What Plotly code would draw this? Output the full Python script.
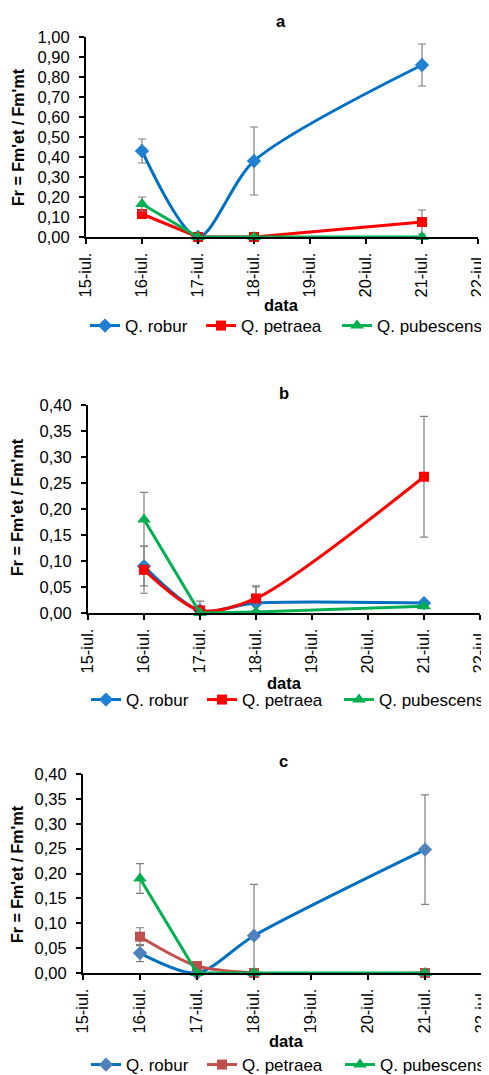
import plotly.graph_objects as go

# The page body adds an 8px offset; positions are given in page pixels and shifted back.
OFF = 8
W, H = 489, 1075

# ---- data ----
days = [16, 17, 18, 21]
x_tick_vals = [15, 16, 17, 18, 19, 20, 21, 22]
x_tick_text = ["15-iul.", "16-iul.", "17-iul.", "18-iul.", "19-iul.", "20-iul.", "21-iul.", "22-iul."]
species = ["Q. robur", "Q. petraea", "Q. pubescens"]

a_robur = [0.43, 0.0, 0.38, 0.86]
a_robur_err = [0.06, 0.0, 0.17, 0.105]
a_petraea = [0.115, 0.0, 0.0, 0.075]
a_petraea_err = [0.0, 0.0, 0.0, 0.06]
a_pubescens = [0.165, 0.0, 0.0, 0.0]
a_pubescens_err = [0.035, 0.0, 0.0, 0.0]

b_robur = [0.09, 0.005, 0.019, 0.019]
b_robur_err = [0.038, 0.018, 0.031, 0.0]
b_petraea = [0.083, 0.005, 0.028, 0.262]
b_petraea_err = [0.045, 0.0, 0.024, 0.116]
b_pubescens = [0.18, 0.0, 0.002, 0.013]
b_pubescens_err = [0.052, 0.0, 0.0, 0.0]

c_robur = [0.04, 0.0, 0.075, 0.248]
c_robur_err = [0.017, 0.0, 0.103, 0.11]
c_petraea = [0.073, 0.014, 0.0, 0.0]
c_petraea_err = [0.018, 0.0, 0.0, 0.0]
c_pubescens = [0.19, 0.0, 0.0, 0.0]
c_pubescens_err = [0.03, 0.0, 0.0, 0.0]

panel_titles = ["a", "b", "c"]
y_title = "Fr = Fm'et / Fm'mt"
x_title = "data"
y_max = [1.0, 0.4, 0.4]
y_dtick = [0.1, 0.05, 0.05]

FONT = "Liberation Sans, Arial, sans-serif"

# pixel geometry (page pixels) of the three plot areas: (x0, x1, ytop, ybottom)
boxes = [(86, 478, 37, 237), (88, 480, 405, 613), (83, 482, 774, 973)]
title_pos = [(281, 21), (284, 393), (283, 761)]
ytitle_pos = [(18, 137), (18, 507), (17, 874)]
xtitle_pos = [(281, 305), (284, 683), (286, 1041)]
legend_y = [326, 700, 1065]
legend_item_x = [[90, 206, 342], [91, 207, 344], [91, 207, 345]]


def px(x):
    return (x - OFF) / W


def py(y):
    return 1 - (y - OFF) / H


fig = go.Figure()

panels = [
    [(a_robur, a_robur_err, "spline"), (a_petraea, a_petraea_err, "linear"), (a_pubescens, a_pubescens_err, "linear")],
    [(b_robur, b_robur_err, "spline"), (b_petraea, b_petraea_err, "spline"), (b_pubescens, b_pubescens_err, "linear")],
    [(c_robur, c_robur_err, "spline"), (c_petraea, c_petraea_err, "spline"), (c_pubescens, c_pubescens_err, "linear")],
]
line_colors = [
    ["#0070C0", "#FF0000", "#00B050"],
    ["#0070C0", "#FF0000", "#00B050"],
    ["#0070C0", "#C0504D", "#00B050"],
]
marker_colors = [
    ["#1F7FD0", "#FF0000", "#00B050"],
    ["#1F7FD0", "#FF0000", "#00B050"],
    ["#4F81BD", "#C0504D", "#00B050"],
]
symbols = ["diamond", "square", "triangle-up"]
msizes = [11, 10, 12]

layout = dict(
    width=W, height=H, margin=dict(l=0, r=0, t=0, b=0, autoexpand=False),
    paper_bgcolor="white", plot_bgcolor="white",
    font=dict(family=FONT, size=16, color="#000000"),
    separators=",.",
    showlegend=True,
    annotations=[],
)

for p in range(3):
    xa = "x" if p == 0 else f"x{p+1}"
    ya = "y" if p == 0 else f"y{p+1}"
    for s in range(3):
        vals, errs, shape = panels[p][s]
        idx = p * 3 + s
        leg = "legend" if idx == 0 else f"legend{idx+1}"
        fig.add_trace(go.Scatter(
            x=days, y=vals, name=species[s], mode="lines+markers",
            xaxis=xa, yaxis=ya, legend=leg,
            line=dict(color=line_colors[p][s], width=3, shape=shape, smoothing=0.8),
            marker=dict(symbol=symbols[s], size=msizes[s], color=marker_colors[p][s]),
            error_y=dict(type="data", array=errs, visible=True, color="#7F7F7F",
                         thickness=1.2, width=4),
            cliponaxis=False,
        ))
        layout[leg] = dict(
            orientation="h", x=px(legend_item_x[p][s] - 5), y=py(legend_y[p]),
            xanchor="left", yanchor="middle", bgcolor="rgba(0,0,0,0)",
            borderwidth=0, font=dict(size=17, family=FONT), itemwidth=30,
        )

for p in range(3):
    x0, x1, yt, yb = boxes[p]
    xk = "xaxis" if p == 0 else f"xaxis{p+1}"
    yk = "yaxis" if p == 0 else f"yaxis{p+1}"
    yname = "y" if p == 0 else f"y{p+1}"
    xname = "x" if p == 0 else f"x{p+1}"
    layout[xk] = dict(
        domain=[px(x0), px(x1)], anchor=yname, range=[15, 22], automargin=False,
        tickmode="array", tickvals=x_tick_vals, ticktext=x_tick_text,
        tickangle=-90, ticks="outside", ticklen=5, tickwidth=1.5, tickcolor="#000",
        ticklabelstandoff=2,
        showline=True, linecolor="#000", linewidth=2, showgrid=False, zeroline=False,
        tickfont=dict(size=16.5, family=FONT),
    )
    layout[yk] = dict(
        domain=[py(yb), py(yt)], anchor=xname, range=[0, y_max[p]], automargin=False,
        dtick=y_dtick[p], tick0=0, tickformat=".2f",
        ticks="outside", ticklen=5, tickwidth=1.5, tickcolor="#000",
        ticklabelstandoff=6,
        showline=True, linecolor="#000", linewidth=2, showgrid=False, zeroline=False,
        tickfont=dict(size=16.5, family=FONT),
    )
    tx, ty = title_pos[p]
    layout["annotations"].append(dict(
        text=f"<b>{panel_titles[p]}</b>", x=px(tx), y=py(ty), xref="paper", yref="paper",
        showarrow=False, xanchor="center", yanchor="middle", font=dict(size=16.5, family=FONT)))
    ax_, ay_ = ytitle_pos[p]
    layout["annotations"].append(dict(
        text=f"<b>{y_title}</b>", x=px(ax_), y=py(ay_), xref="paper", yref="paper",
        showarrow=False, textangle=-90, xanchor="center", yanchor="middle",
        font=dict(size=16, family=FONT)))
    dx, dy = xtitle_pos[p]
    layout["annotations"].append(dict(
        text=f"<b>{x_title}</b>", x=px(dx), y=py(dy), xref="paper", yref="paper",
        showarrow=False, xanchor="center", yanchor="middle", font=dict(size=16.5, family=FONT)))

fig.update_layout(**layout)
fig.write_html("out.html")
